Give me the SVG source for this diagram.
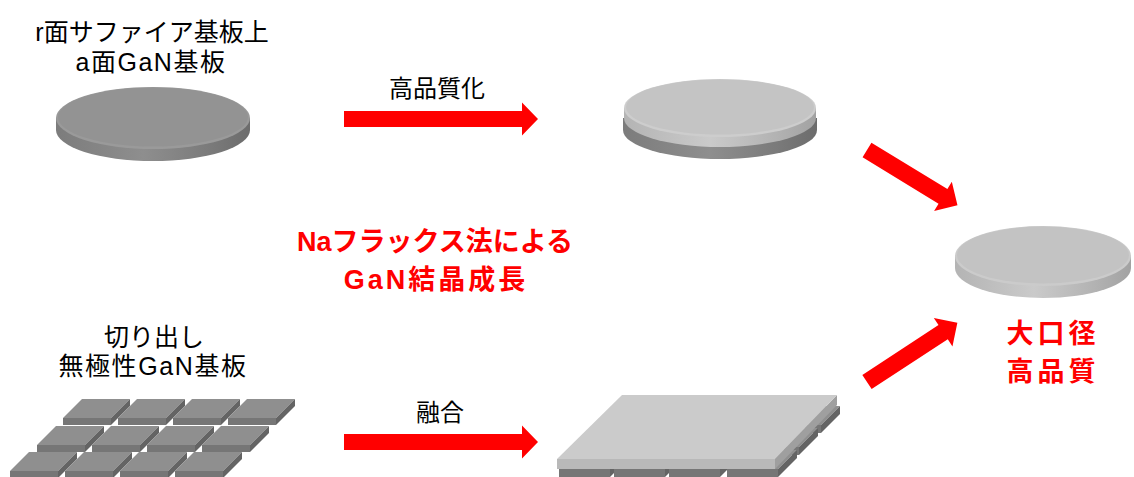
<svg xmlns="http://www.w3.org/2000/svg" width="1134" height="477" viewBox="0 0 1134 477">
  <style>
    .lbl { font-family: "Liberation Sans", "Noto Sans CJK JP", sans-serif; font-size: 25px; fill: #000; text-anchor: middle; }
    .hot { font-family: "Liberation Sans", "Noto Sans CJK JP", sans-serif; font-size: 27px; font-weight: bold; fill: #ff0000; text-anchor: middle; }
    .arrow { fill: #ff0000; }
    .tTop { fill: #8f8f8f; }
    .tFront { fill: #767676; }
    .tSide { fill: #646464; }
    .pTop { fill: #cbcbcb; }
    .pFront { fill: #b9b9b9; }
    .pSide { fill: #9f9f9f; }
  </style>
  <defs>
    <linearGradient id="sideDark" x1="0" y1="0" x2="1" y2="0">
      <stop offset="0" stop-color="#7c7c7c"/>
      <stop offset="0.45" stop-color="#8e8e8e"/>
      <stop offset="0.8" stop-color="#7a7a7a"/>
      <stop offset="1" stop-color="#6c6c6c"/>
    </linearGradient>
    <linearGradient id="sideLight" x1="0" y1="0" x2="1" y2="0">
      <stop offset="0" stop-color="#b4b4b4"/>
      <stop offset="0.45" stop-color="#cacaca"/>
      <stop offset="0.8" stop-color="#b2b2b2"/>
      <stop offset="1" stop-color="#a2a2a2"/>
    </linearGradient>
    <!-- one tile: top face, front face, right face; origin = front-left corner of the top face -->
    <g id="tile">
      <polygon class="tTop" points="0,0 48,0 67,-19 19,-19"/>
      <polygon class="tFront" points="0,0 48,0 48,7 0,7"/>
      <polygon class="tSide" points="48,0 67,-19 67,-12 48,7"/>
    </g>
    <g id="subTile">
      <polygon class="tTop" points="0,0 51,0 70,-19 19,-19"/>
      <polygon class="tFront" points="0,0 51,0 51,8 0,8"/>
      <polygon class="tSide" points="51,0 70,-19 70,-11 51,8"/>
    </g>
  </defs>

  <!-- sapphire-based a-plane GaN wafer -->
  <g id="wafer-sapphire">
    <path d="M56,118 V130 A97 31 0 0 0 250,130 V118 Z" fill="url(#sideDark)"/>
    <ellipse cx="153" cy="118" rx="97" ry="31" fill="#9a9a9a"/>
    <ellipse cx="153" cy="117" rx="95" ry="29.5" fill="#939393"/>
  </g>
  <g id="label-sapphire">
    <text class="lbl" x="152" y="41">r面サファイア基板上</text>
    <text class="lbl" x="151" y="71" letter-spacing="1.5">a面GaN基板</text>
  </g>

  <!-- improved-quality wafer (two layers) -->
  <g id="wafer-improved">
    <path d="M623,118 V130 A97 29 0 0 0 817,130 V118 Z" fill="url(#sideDark)"/>
    <path d="M624,108 V118 A96 29 0 0 0 816,118 V108 Z" fill="url(#sideLight)"/>
    <ellipse cx="720" cy="108" rx="96" ry="29" fill="#cdcdcd"/>
    <ellipse cx="720" cy="107" rx="94" ry="27.5" fill="#c4c4c4"/>
  </g>

  <!-- large-diameter wafer -->
  <g id="wafer-large">
    <path d="M955,256 V268 A88 30 0 0 0 1131,268 V256 Z" fill="url(#sideLight)"/>
    <ellipse cx="1043" cy="256" rx="88" ry="30" fill="#cbcbcb"/>
    <ellipse cx="1043" cy="255" rx="86" ry="28.5" fill="#c3c3c3"/>
  </g>

  <!-- cut-out nonpolar GaN tiles, 3 x 4 -->
  <g id="tiles">
    <use href="#tile" x="63" y="418"/>
    <use href="#tile" x="118" y="418"/>
    <use href="#tile" x="173" y="418"/>
    <use href="#tile" x="228" y="418"/>
    <use href="#tile" x="37" y="445"/>
    <use href="#tile" x="92" y="445"/>
    <use href="#tile" x="147" y="445"/>
    <use href="#tile" x="202" y="445"/>
    <use href="#tile" x="10" y="471"/>
    <use href="#tile" x="65" y="471"/>
    <use href="#tile" x="120" y="471"/>
    <use href="#tile" x="175" y="471"/>
  </g>
  <g id="label-tiles">
    <text class="lbl" x="154" y="346">切り出し</text>
    <text class="lbl" x="153" y="375" letter-spacing="1.6">無極性GaN基板</text>
  </g>

  <!-- coalesced plate resting on the merged tiles -->
  <g id="plate">
    <use href="#subTile" x="605" y="425"/>
    <use href="#subTile" x="660" y="425"/>
    <use href="#subTile" x="715" y="425"/>
    <use href="#subTile" x="770" y="425"/>
    <use href="#subTile" x="583" y="447"/>
    <use href="#subTile" x="638" y="447"/>
    <use href="#subTile" x="693" y="447"/>
    <use href="#subTile" x="748" y="447"/>
    <use href="#subTile" x="559" y="469"/>
    <use href="#subTile" x="614" y="469"/>
    <use href="#subTile" x="669" y="469"/>
    <use href="#subTile" x="727" y="469"/>
    <polygon class="pFront" points="557,459 775,459 775,469 557,469"/>
    <polygon class="pSide" points="775,459 837,395 837,405 775,469"/>
    <polygon class="pTop" points="557,459 775,459 837,395 622,395"/>
  </g>

  <!-- process labels -->
  <g id="label-quality">
    <text class="lbl" x="437" y="97" style="font-size:24px">高品質化</text>
  </g>
  <g id="label-merge">
    <text class="lbl" x="440" y="421" style="font-size:24px">融合</text>
  </g>
  <g id="label-flux">
    <text class="hot" x="435" y="251">Naフラックス法による</text>
    <text class="hot" x="436" y="289" letter-spacing="3">GaN結晶成長</text>
  </g>
  <g id="label-result">
    <text class="hot" x="1053" y="343" letter-spacing="4">大口径</text>
    <text class="hot" x="1053" y="381" letter-spacing="4">高品質</text>
  </g>

  <!-- connectors -->
  <g id="connectors">
    <path class="arrow" transform="translate(344,119)" d="M0,-8 H178 V-16.5 L194,0 L178,16.5 V8 H0 Z"/>
    <path class="arrow" transform="translate(344,442)" d="M0,-8 H178 V-16.5 L194,0 L178,16.5 V8 H0 Z"/>
    <path class="arrow" transform="translate(867,150) rotate(31.4)" d="M0,-8.5 H89 V-17 L106,0 L89,17 V8.5 H0 Z"/>
    <path class="arrow" transform="translate(867,382) rotate(-33.2)" d="M0,-8.5 H91 V-17 L108,0 L91,17 V8.5 H0 Z"/>
  </g>
</svg>
